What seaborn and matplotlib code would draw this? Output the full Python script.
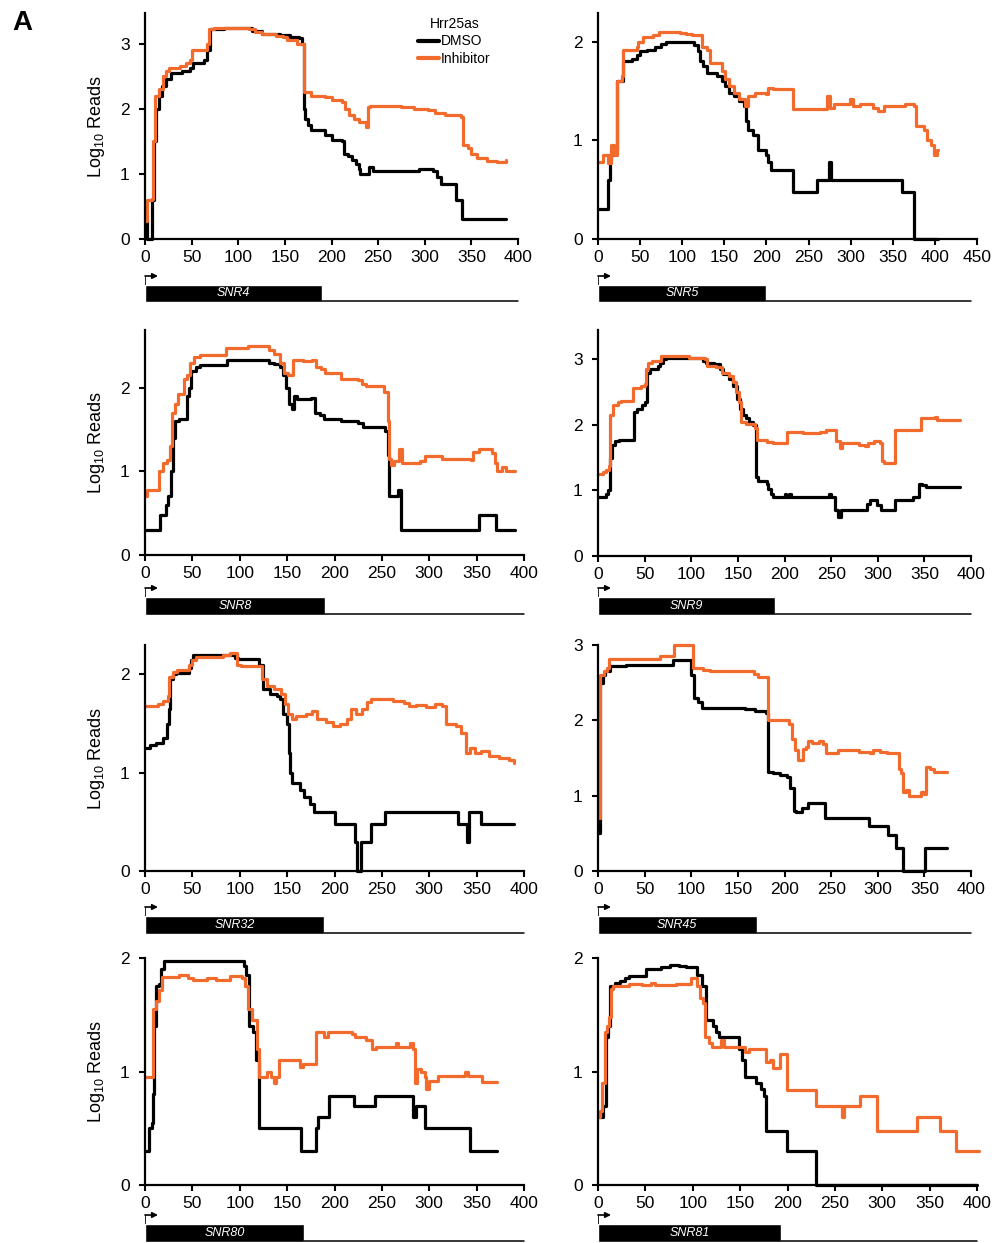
import matplotlib
matplotlib.use("Agg")
import matplotlib.pyplot as plt
import pandas as pd
import seaborn as sns

sns.set_style("ticks")
plt.rcParams["font.family"] = ["Liberation Sans", "DejaVu Sans"]
plt.rcParams["mathtext.fontset"] = "custom"
plt.rcParams["mathtext.rm"] = "Liberation Sans"
for key in ["text.color", "axes.labelcolor", "xtick.color", "ytick.color", "axes.edgecolor"]:
    plt.rcParams[key] = "black"

ORANGE = "#f26b2c"
W, H = 994, 1243

# read positions (nt) and log10 reads; each value holds until the next position
snr4_dmso_x = [0, 2, 7, 8, 10, 12, 15, 18, 22, 28, 40, 48, 52, 63, 67, 70, 85, 110, 115, 125,
               145, 155, 165, 168, 170, 172, 175, 178, 193, 200, 211, 213, 218, 222, 226, 230,
               231, 240, 244, 294, 309, 313, 317, 333, 340, 387]
snr4_dmso_y = [0.3, 0, 0.3, 0.6, 1.5, 2.0, 2.2, 2.35, 2.45, 2.55, 2.58, 2.62, 2.7, 2.75, 2.9, 3.22,
               3.24, 3.24, 3.2, 3.15, 3.13, 3.1, 3.08, 3.0, 2.0, 1.85, 1.75, 1.68, 1.6, 1.52, 1.5,
               1.3, 1.27, 1.22, 1.15, 1.08, 1.0, 1.1, 1.05, 1.08, 1.05, 0.95, 0.84, 0.6, 0.3, 0.3]
snr4_inh_x = [0, 2, 7, 9, 11, 15, 19, 22, 26, 37, 44, 48, 50, 67, 69, 74, 111, 118, 126, 141,
              148, 152, 163, 170, 171, 178, 193, 200, 211, 215, 219, 224, 230, 237, 239, 241,
              274, 289, 304, 311, 322, 339, 341, 346, 350, 356, 367, 378, 387]
snr4_inh_y = [0.28, 0.6, 0.62, 1.5, 2.2, 2.3, 2.5, 2.58, 2.62, 2.65, 2.7, 2.75, 2.9, 3.0, 3.22,
              3.24, 3.22, 3.18, 3.14, 3.12, 3.1, 3.05, 3.0, 2.95, 2.25, 2.2, 2.18, 2.13, 2.1, 2.0,
              1.9, 1.85, 1.8, 1.72, 2.02, 2.04, 2.03, 2.0, 1.98, 1.93, 1.9, 1.88, 1.45, 1.4, 1.3,
              1.25, 1.2, 1.18, 1.22]

snr5_dmso_x = [0, 12, 14, 18, 22, 30, 40, 46, 50, 58, 68, 75, 81, 114, 119, 121, 125, 129, 141,
               147, 151, 155, 161, 168, 173, 176, 178, 184, 190, 200, 202, 206, 232, 260, 274,
               277, 361, 375, 404]
snr5_dmso_y = [0.3, 0.6, 0.85, 0.9, 1.6, 1.8, 1.82, 1.86, 1.9, 1.92, 1.95, 1.98, 2.0, 1.97, 1.9,
               1.8, 1.75, 1.68, 1.65, 1.6, 1.55, 1.48, 1.45, 1.4, 1.35, 1.2, 1.1, 1.05, 0.9, 0.85,
               0.78, 0.7, 0.48, 0.6, 0.78, 0.6, 0.48, 0, 0]
snr5_inh_x = [0, 6, 12, 16, 19, 22, 28, 30, 46, 48, 54, 65, 73, 97, 105, 112, 124, 129, 133, 147,
              151, 155, 161, 168, 174, 178, 186, 200, 202, 208, 232, 272, 276, 280, 299, 303, 311,
              327, 333, 339, 365, 375, 377, 387, 391, 395, 399, 402, 404]
snr5_inh_y = [0.78, 0.85, 0.77, 0.95, 0.85, 1.6, 1.65, 1.92, 1.95, 2.0, 2.05, 2.07, 2.1, 2.09,
              2.08, 2.07, 1.95, 1.92, 1.78, 1.7, 1.62, 1.55, 1.48, 1.42, 1.35, 1.45, 1.48, 1.47,
              1.53, 1.52, 1.32, 1.45, 1.33, 1.37, 1.42, 1.35, 1.37, 1.33, 1.3, 1.35, 1.37, 1.35,
              1.15, 1.1, 1.0, 0.95, 0.85, 0.9, 0.9]

snr8_dmso_x = [0, 16, 22, 24, 27, 30, 32, 36, 44, 46, 49, 54, 58, 87, 131, 136, 142, 146, 149,
               152, 155, 157, 160, 175, 179, 185, 189, 207, 225, 230, 253, 256, 258, 267, 270,
               353, 370, 391]
snr8_dmso_y = [0.3, 0.48, 0.6, 0.7, 1.0, 1.4, 1.6, 1.62, 1.9, 2.0, 2.2, 2.25, 2.27, 2.33, 2.3,
               2.28, 2.25, 2.15, 2.0, 1.8, 1.75, 1.9, 1.87, 1.88, 1.7, 1.67, 1.63, 1.6, 1.58, 1.53,
               1.48, 1.2, 0.7, 0.78, 0.3, 0.48, 0.3, 0.3]
snr8_inh_x = [0, 2, 15, 19, 23, 26, 29, 32, 35, 41, 44, 48, 52, 58, 86, 105, 109, 131, 136, 142,
              147, 151, 156, 167, 176, 181, 186, 190, 207, 225, 229, 233, 252, 256, 258, 260, 263,
              268, 271, 290, 295, 313, 344, 346, 352, 366, 369, 371, 377, 381, 391]
snr8_inh_y = [0.7, 0.78, 1.0, 1.1, 1.13, 1.3, 1.7, 1.8, 1.92, 2.1, 2.15, 2.3, 2.37, 2.39, 2.47,
              2.48, 2.5, 2.45, 2.4, 2.3, 2.18, 2.15, 2.33, 2.32, 2.33, 2.25, 2.22, 2.17, 2.1, 2.09,
              2.05, 2.02, 1.95, 1.6, 1.15, 1.08, 1.12, 1.27, 1.1, 1.12, 1.18, 1.15, 1.13, 1.23,
              1.27, 1.22, 1.1, 1.0, 1.05, 1.0, 1.0]

snr9_dmso_x = [0, 9, 11, 13, 15, 18, 23, 39, 42, 47, 50, 53, 56, 64, 67, 70, 73, 113, 116, 124,
               131, 134, 140, 145, 149, 152, 155, 159, 162, 166, 169, 172, 181, 182, 186, 188,
               200, 202, 205, 207, 248, 250, 254, 257, 261, 289, 292, 299, 303, 318, 338, 344,
               347, 352, 388]
snr9_dmso_y = [0.9, 0.95, 1.0, 1.5, 1.7, 1.75, 1.77, 2.2, 2.25, 2.3, 2.35, 2.8, 2.85, 2.9, 2.95,
               3.0, 3.02, 2.98, 2.95, 2.93, 2.85, 2.78, 2.7, 2.6, 2.4, 2.25, 2.15, 2.1, 2.05, 2.0,
               1.2, 1.15, 1.1, 1.02, 0.95, 0.9, 0.95, 0.9, 0.95, 0.9, 0.95, 0.9, 0.7, 0.6, 0.7,
               0.8, 0.85, 0.78, 0.7, 0.85, 0.9, 1.1, 1.08, 1.05, 1.05]
snr9_inh_x = [0, 5, 9, 12, 13, 16, 21, 25, 38, 46, 50, 51, 54, 58, 68, 98, 109, 115, 117, 127,
              133, 140, 145, 148, 151, 153, 159, 168, 170, 181, 188, 203, 220, 238, 245, 255,
              259, 262, 280, 286, 290, 296, 302, 305, 307, 319, 346, 361, 364, 388]
snr9_inh_y = [1.25, 1.28, 1.32, 1.38, 2.15, 2.3, 2.35, 2.37, 2.57, 2.6, 2.62, 2.85, 2.95, 2.98,
              3.05, 3.03, 3.02, 3.0, 2.9, 2.88, 2.8, 2.75, 2.65, 2.5, 2.35, 2.05, 2.02, 1.95,
              1.77, 1.74, 1.72, 1.9, 1.88, 1.9, 1.92, 1.75, 1.65, 1.72, 1.7, 1.68, 1.73, 1.75,
              1.73, 1.45, 1.42, 1.92, 2.1, 2.12, 2.08, 2.07]

snr32_dmso_x = [0, 5, 12, 19, 23, 25, 26, 30, 33, 46, 49, 51, 95, 98, 120, 125, 132, 139, 143,
                146, 150, 152, 153, 155, 164, 168, 174, 178, 200, 222, 224, 228, 238, 253, 330,
                340, 342, 355, 389]
snr32_dmso_y = [1.25, 1.28, 1.3, 1.35, 1.5, 1.65, 1.95, 2.0, 2.02, 2.07, 2.15, 2.2, 2.17, 2.16,
                2.1, 1.85, 1.8, 1.78, 1.75, 1.6, 1.5, 1.2, 1.0, 0.9, 0.82, 0.75, 0.68, 0.6, 0.48,
                0.3, 0, 0.3, 0.48, 0.6, 0.48, 0.3, 0.6, 0.48, 0.48]
snr32_inh_x = [0, 14, 19, 24, 25, 30, 34, 46, 50, 54, 82, 90, 97, 101, 124, 129, 136, 144, 148,
               151, 155, 159, 170, 176, 182, 191, 198, 206, 213, 217, 223, 229, 234, 239, 262,
               273, 279, 286, 297, 306, 313, 318, 328, 333, 339, 343, 348, 355, 363, 374, 384, 389]
snr32_inh_y = [1.68, 1.7, 1.73, 1.78, 1.97, 2.03, 2.05, 2.1, 2.15, 2.18, 2.2, 2.22, 2.1, 2.09,
               1.95, 1.88, 1.85, 1.8, 1.7, 1.6, 1.55, 1.58, 1.6, 1.63, 1.55, 1.52, 1.48, 1.5,
               1.55, 1.65, 1.6, 1.65, 1.72, 1.75, 1.73, 1.71, 1.68, 1.69, 1.67, 1.7, 1.68, 1.5,
               1.48, 1.4, 1.2, 1.25, 1.2, 1.22, 1.17, 1.15, 1.13, 1.1]

snr45_dmso_x = [0, 2, 5, 8, 13, 30, 80, 100, 103, 107, 111, 145, 158, 168, 180, 182, 188, 195,
                203, 206, 210, 212, 219, 225, 243, 291, 311, 320, 327, 351, 374]
snr45_dmso_y = [0.5, 2.5, 2.6, 2.65, 2.72, 2.73, 2.8, 2.6, 2.3, 2.25, 2.17, 2.16, 2.15, 2.12,
                2.1, 1.32, 1.3, 1.28, 1.25, 1.1, 0.8, 0.78, 0.83, 0.9, 0.7, 0.6, 0.48, 0.3, 0,
                0.3, 0.3]
snr45_inh_x = [0, 2, 6, 10, 12, 66, 81, 102, 113, 120, 167, 172, 182, 205, 208, 211, 214, 220,
               223, 225, 230, 237, 241, 244, 257, 280, 292, 295, 302, 310, 323, 325, 327, 330,
               334, 346, 350, 352, 356, 360, 374]
snr45_inh_y = [0.7, 2.6, 2.65, 2.7, 2.82, 2.85, 3.0, 2.7, 2.67, 2.66, 2.62, 2.58, 2.0, 1.95,
               1.75, 1.6, 1.48, 1.62, 1.65, 1.72, 1.7, 1.72, 1.68, 1.57, 1.6, 1.58, 1.57, 1.6,
               1.58, 1.56, 1.35, 1.3, 1.05, 1.08, 1.0, 1.05, 1.02, 1.38, 1.35, 1.32, 1.32]

snr80_dmso_x = [0, 4, 7, 8, 10, 12, 15, 17, 20, 104, 107, 110, 114, 117, 120, 165, 181, 183,
                194, 221, 243, 283, 286, 295, 343, 372]
snr80_dmso_y = [0.3, 0.5, 0.55, 0.8, 1.4, 1.75, 1.77, 1.9, 1.97, 1.93, 1.85, 1.4, 1.35, 1.1,
                0.5, 0.3, 0.5, 0.6, 0.78, 0.7, 0.78, 0.6, 0.7, 0.5, 0.3, 0.3]
snr80_inh_x = [0, 8, 12, 15, 18, 36, 45, 51, 65, 75, 90, 102, 106, 109, 113, 118, 120, 129, 133,
               136, 138, 141, 164, 167, 180, 189, 193, 218, 222, 233, 240, 244, 265, 267, 280,
               283, 285, 287, 291, 295, 297, 300, 309, 338, 341, 356, 372]
snr80_inh_y = [0.95, 1.55, 1.62, 1.72, 1.83, 1.85, 1.82, 1.81, 1.82, 1.81, 1.84, 1.82, 1.75,
               1.55, 1.45, 1.2, 0.95, 1.0, 0.95, 0.9, 0.95, 1.1, 1.04, 1.07, 1.35, 1.3, 1.35,
               1.33, 1.3, 1.28, 1.2, 1.22, 1.25, 1.22, 1.25, 1.2, 0.9, 1.02, 1.0, 0.95, 0.85,
               0.92, 0.96, 1.0, 0.96, 0.91, 0.91]

snr81_dmso_x = [0, 5, 8, 11, 13, 18, 23, 28, 33, 51, 66, 76, 86, 93, 105, 110, 114, 121, 125,
                128, 149, 152, 155, 167, 172, 175, 177, 199, 230, 400]
snr81_dmso_y = [0.6, 0.7, 1.3, 1.4, 1.75, 1.78, 1.8, 1.82, 1.84, 1.9, 1.92, 1.94, 1.93, 1.92,
                1.85, 1.75, 1.45, 1.4, 1.35, 1.3, 1.2, 1.1, 0.95, 0.9, 0.85, 0.78, 0.48, 0.3, 0, 0]
snr81_inh_x = [0, 2, 4, 7, 10, 12, 14, 16, 33, 46, 56, 60, 82, 98, 105, 108, 111, 113, 117, 120,
               130, 133, 155, 159, 177, 182, 185, 192, 199, 230, 258, 260, 277, 294, 337, 361,
               378, 402]
snr81_inh_y = [0.6, 0.65, 0.9, 1.35, 1.4, 1.48, 1.73, 1.75, 1.77, 1.76, 1.78, 1.76, 1.77, 1.82,
               1.75, 1.65, 1.6, 1.3, 1.25, 1.22, 1.28, 1.22, 1.17, 1.2, 1.08, 1.1, 1.03, 1.15,
               0.84, 0.7, 0.6, 0.7, 0.78, 0.48, 0.6, 0.48, 0.3, 0.3]

genes = ["SNR4", "SNR5", "SNR8", "SNR9", "SNR32", "SNR45", "SNR80", "SNR81"]
gene_ends = [190, 200, 190, 190, 189, 170, 168, 193]
dmso_x = [snr4_dmso_x, snr5_dmso_x, snr8_dmso_x, snr9_dmso_x,
          snr32_dmso_x, snr45_dmso_x, snr80_dmso_x, snr81_dmso_x]
dmso_y = [snr4_dmso_y, snr5_dmso_y, snr8_dmso_y, snr9_dmso_y,
          snr32_dmso_y, snr45_dmso_y, snr80_dmso_y, snr81_dmso_y]
inh_x = [snr4_inh_x, snr5_inh_x, snr8_inh_x, snr9_inh_x,
         snr32_inh_x, snr45_inh_x, snr80_inh_x, snr81_inh_x]
inh_y = [snr4_inh_y, snr5_inh_y, snr8_inh_y, snr9_inh_y,
         snr32_inh_y, snr45_inh_y, snr80_inh_y, snr81_inh_y]

# panel frames in pixels: left, right, top, bottom
frames = [(145, 518, 13, 239), (598, 977, 13, 239),
          (145, 524, 330, 555), (598, 971, 330, 556),
          (145, 524, 645, 871), (598, 971, 645, 871),
          (145, 524, 958, 1185), (598, 977, 958, 1185)]
x_max = [400, 450, 400, 400, 400, 400, 400, 400]
y_top = [3.47, 2.29, 2.69, 3.45, 2.30, 3.0, 2.0, 2.0]
line_end = [400, 443, 400, 400, 400, 400, 400, 400]
gene_rows = [(285, 302), (597, 615), (916, 934), (1224, 1242)]

fig = plt.figure(figsize=(W / 100, H / 100), dpi=100)


def px_axes(l, r, t, b):
    return fig.add_axes([l / W, 1 - b / H, (r - l) / W, (b - t) / H])


for i, gene in enumerate(genes):
    l, r, t, b = frames[i]
    ax = px_axes(l, r, t, b)
    df = pd.concat([
        pd.DataFrame({"pos": dmso_x[i], "reads": dmso_y[i], "cond": "DMSO"}),
        pd.DataFrame({"pos": inh_x[i], "reads": inh_y[i], "cond": "Inhibitor"}),
    ], ignore_index=True)
    sns.lineplot(data=df, x="pos", y="reads", hue="cond",
                 hue_order=["DMSO", "Inhibitor"],
                 palette={"DMSO": "black", "Inhibitor": ORANGE},
                 estimator=None, sort=False, drawstyle="steps-post",
                 lw=2.3, ax=ax, legend=(i == 0), clip_on=False)
    ax.set_xlim(0, x_max[i])
    ax.set_ylim(0, y_top[i])
    ax.set_xticks(range(0, x_max[i] + 1, 50))
    ax.set_yticks(range(0, int(y_top[i] + 0.02) + 1))
    sns.despine(ax=ax)
    for s in ["left", "bottom"]:
        ax.spines[s].set_linewidth(1.6)
    ax.tick_params(length=4, width=1.5, labelsize=12.5, direction="out")
    ax.tick_params(axis="x", pad=4)
    ax.tick_params(axis="y", pad=7)
    ax.set_xlabel("")
    if i % 2 == 0:
        ax.set_ylabel("Log$_{10}$ Reads", fontsize=13, labelpad=9)
    else:
        ax.set_ylabel("")

    if i == 0:
        sns.move_legend(ax, "upper left",
                        bbox_to_anchor=((418 - l) / (r - l), (b - 17) / (b - t)),
                        title="Hrr25as", frameon=False, fontsize=10, title_fontsize=10,
                        handlelength=1.5, handletextpad=0.15, labelspacing=0.25,
                        borderpad=0, borderaxespad=0)
        for h in ax.get_legend().legend_handles:
            h.set_linewidth(3)

    # gene diagram under the panel
    gt, gb = gene_rows[i // 2]
    bh = gb - gt
    gax = px_axes(l, r, gt - 11, gb)
    gax.set_xlim(0, x_max[i])
    gax.set_ylim(0, (bh + 11) / bh)
    gax.axis("off")
    gax.barh(0.5, gene_ends[i], height=1, left=0, color="black")
    gax.plot([gene_ends[i], line_end[i]], [0.05, 0.05], color="black", lw=1.1, clip_on=False)
    ay = 1 + 9 / bh
    alen = 13 * x_max[i] / (r - l)
    gax.plot([0, 0], [1, ay], color="black", lw=1.2, solid_capstyle="butt")
    gax.annotate("", xy=(alen, ay), xytext=(0, ay),
                 arrowprops=dict(arrowstyle="-|>", color="black", lw=1.2,
                                 mutation_scale=8, shrinkA=0, shrinkB=0))
    gax.text(gene_ends[i] / 2, 0.5, gene, color="white", style="italic",
             ha="center", va="center", fontsize=9)

fig.text(22 / W, 1 - 23 / H, "A", fontsize=20, weight="bold", ha="center", va="center")

fig.savefig("out.png", dpi=100)
